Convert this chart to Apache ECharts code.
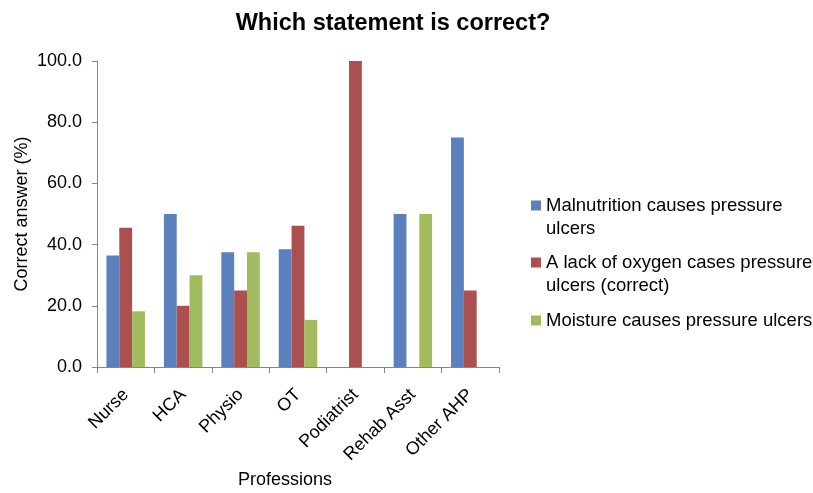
<!DOCTYPE html>
<html><head><meta charset="utf-8">
<script src="https://cdn.jsdelivr.net/npm/echarts@6/dist/echarts.min.js"></script>
<style>html,body{margin:0;padding:0;background:#fff}#c{width:813px;height:493px}</style>
</head><body><div id="c"></div>
<script>
const categories = ['Nurse','HCA','Physio','OT','Podiatrist','Rehab Asst','Other AHP'];
const seriesNames = ['Malnutrition causes pressure ulcers','A lack of oxygen cases pressure ulcers (correct)','Moisture causes pressure ulcers'];
const legendText = ['\nMalnutrition causes pressure\nulcers','\nA lack of oxygen cases pressure\nulcers (correct)','Moisture causes pressure ulcers'];
const malnutrition = [36.4, 50, 37.5, 38.5, 0, 50, 75];
const oxygen = [45.5, 20, 25, 46.2, 100, 0, 25];
const moisture = [18.2, 30, 37.5, 15.4, 0, 50, 0];
const colors = ['#5B80BD','#AB504E','#A2BB5E'];
const font = 'Liberation Sans, Arial, sans-serif';
const chart = echarts.init(document.getElementById('c'));
const legendTops = [171, 228, 309];
chart.setOption({
  animation:false,
  textStyle:{fontFamily:font},
  title:{text:'Which statement is correct?',left:388,top:7,textAlign:'center',
    textStyle:{fontFamily:font,fontSize:23.5,fontWeight:'bold',color:'#000'}},
  legend: seriesNames.map((n,i)=>({
    data:[n], orient:'vertical', left:531, top:legendTops[i], padding:0,
    itemWidth:10, itemHeight:10, itemGap:6, icon:'rect',
    formatter:()=>legendText[i],
    textStyle:{fontFamily:font,fontSize:18.5,color:'#000',lineHeight:23}
  })),
  grid:{left:97,right:314,top:61,bottom:126,outerBoundsMode:'none',containLabel:false},
  xAxis:{type:'category',data:categories,
    axisLine:{lineStyle:{color:'#868686'}},
    axisTick:{show:true,alignWithLabel:false,length:6,lineStyle:{color:'#868686'}},
    axisLabel:{rotate:45,fontFamily:font,fontSize:18,color:'#000',margin:25,interval:0},
    name:'Professions',nameLocation:'middle',nameGap:100,
    nameTextStyle:{fontFamily:font,fontSize:18,color:'#000',padding:[0,26,0,0]}},
  yAxis:{type:'value',min:0,max:100,interval:20,
    axisLine:{show:true,lineStyle:{color:'#868686'}},
    axisTick:{show:true,length:5,lineStyle:{color:'#868686'}},
    splitLine:{show:false},
    axisLabel:{fontFamily:font,fontSize:18,color:'#000',margin:15,formatter:v=>v.toFixed(1)},
    name:'Correct answer (%)',nameLocation:'middle',nameGap:66,
    nameTextStyle:{fontFamily:font,fontSize:18,color:'#000'}},
  series:[malnutrition,oxygen,moisture].map((d,i)=>({
    name:seriesNames[i],type:'bar',data:d,barGap:'0%',barCategoryGap:'33%',
    itemStyle:{color:colors[i]}
  }))
});
</script></body></html>
